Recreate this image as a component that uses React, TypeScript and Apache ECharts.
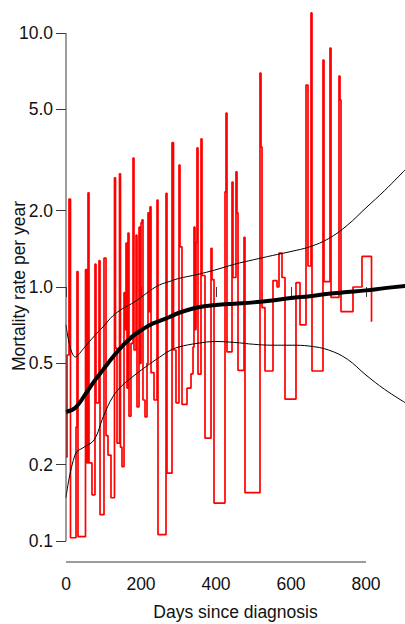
import React, { useEffect, useRef } from "react";
import * as echarts from "echarts";

// Step-wise (interval) mortality rate estimate: start day of each interval and its rate
const hazardDays = [
  0, 2.7, 8, 12, 26.7, 29.3, 32, 52, 56, 58.7, 61.3, 69.3, 77.3, 80, 88, 90.7, 101.3, 106.7, 112, 120,
  129.3, 132, 136, 142.7, 145.3, 149.3, 154.7, 157.3, 160, 162.7, 165.3, 168, 173.3, 178.7, 181.3, 186.7,
  189.3, 194.7, 197.3, 200, 202.7, 205.3, 210.7, 216, 218.7, 221.3, 224, 226.7, 234.7, 242.7, 245.3,
  266.7, 269.3, 282.7, 286.7, 293.3, 301.3, 304, 309.3, 322.7, 333.3, 338.7, 341.3, 344, 346.7, 349.3,
  352, 360, 362.7, 370.7, 386.7, 389.3, 394.7, 424, 426.7, 429.3, 442.7, 445.3, 453.3, 456, 458.7, 474.7,
  477.3, 517.3, 520, 522.7, 530.7, 552, 562.7, 568, 576, 584, 613.3, 624, 640, 645.3, 653.3, 656, 685.3,
  688, 704, 706.7, 728, 730.7, 733.3, 765.3, 789.3, 814.7,
];
const hazardRates = [
  0.214, 0.54, 2.22, 0.103, 0.281, 1.15, 0.104, 1.17, 0.203, 2.35, 0.203, 0.152, 1.23, 0.35, 1.27, 0.127,
  1.3, 0.26, 0.218, 0.148, 2.69, 0.575, 0.243, 2.79, 0.234, 0.196, 0.95, 0.68, 1.49, 0.4, 1.63, 0.31, 0.6,
  3.22, 0.565, 1.6, 0.337, 1.72, 0.5, 1.79, 1.84, 0.359, 0.308, 0.5, 1.96, 0.8, 2.07, 0.46, 0.359, 2.2,
  0.106, 2.34, 0.185, 3.7, 0.565, 0.35, 3.02, 1.44, 0.345, 0.4, 0.455, 0.58, 1.72, 0.68, 1.5, 3.53, 0.454,
  3.83, 1.11, 0.254, 1.42, 1.07, 0.141, 2.37, 4.84, 0.555, 2.59, 1.09, 2.84, 1.96, 0.47, 1.57, 0.155, 6.96,
  3.56, 0.83, 0.467, 1.06, 1.0, 1.36, 1.09, 0.362, 1.04, 0.71, 6.24, 1.21, 12.0, 0.467, 7.83, 1.05, 8.73,
  0.91, 6.77, 5.45, 0.8, 1.0, 1.32, 0.73,
];

// Smoothed rate and its confidence band
const smoothDays = [0, 25, 50, 75, 100, 125, 150, 175, 200, 225, 250, 275, 300, 350, 400, 450, 500, 550, 600, 650, 700, 750, 800, 850, 905];
const smoothRates = [0.322, 0.335, 0.375, 0.425, 0.475, 0.53, 0.585, 0.635, 0.675, 0.71, 0.735, 0.76, 0.79, 0.83, 0.85, 0.86, 0.87, 0.885, 0.905, 0.92, 0.94, 0.955, 0.97, 0.99, 1.01];
const upperRates = [0.71, 0.53, 0.58, 0.64, 0.70, 0.77, 0.82, 0.86, 0.91, 0.97, 1.02, 1.05, 1.08, 1.12, 1.17, 1.23, 1.28, 1.33, 1.38, 1.44, 1.55, 1.75, 2.05, 2.4, 2.9];
const lowerRates = [0.148, 0.22, 0.235, 0.25, 0.31, 0.37, 0.41, 0.44, 0.47, 0.5, 0.53, 0.56, 0.58, 0.6, 0.61, 0.605, 0.595, 0.59, 0.59, 0.585, 0.565, 0.52, 0.45, 0.395, 0.35];

const xTicks = [0, 200, 400, 600, 800];
const yTicks = [0.1, 0.2, 0.5, 1, 2, 5, 10];

const X_MAX = 904;
const Y_MIN = 0.08266;
const Y_MAX = 13.49;

const FONT = "'Liberation Sans', Arial, Helvetica, sans-serif";
const AXIS_COLOR = "#3a3a3a";

const lg = (v: number) => Math.log10(v);

export default function App() {
  const ref = useRef<HTMLDivElement>(null);

  useEffect(() => {
    if (!ref.current) return;
    const chart = echarts.init(ref.current, undefined, { renderer: "svg" });

    const hazard = hazardDays.map((d, i) => [d, lg(hazardRates[i])]);
    const smooth = smoothDays.map((d, i) => [d, lg(smoothRates[i])]);
    const upper = smoothDays.map((d, i) => [d, lg(upperRates[i])]);
    const lower = smoothDays.map((d, i) => [d, lg(lowerRates[i])]);

    chart.setOption({
      animation: false,
      grid: { left: 66, right: 0, top: 0, bottom: 62, containLabel: false, outerBoundsMode: "none" },
      xAxis: {
        type: "value",
        min: 0,
        max: X_MAX,
        splitLine: { show: false },
        axisLine: { show: false },
        axisTick: {
          show: true,
          customValues: xTicks,
          length: 10,
          lineStyle: { color: AXIS_COLOR, width: 1 },
        },
        axisLabel: {
          customValues: xTicks,
          margin: 13,
          fontSize: 17.5,
          fontFamily: FONT,
          color: "#111",
        },
        name: "Days since diagnosis",
        nameLocation: "middle",
        nameGap: 41,
        nameMoveOverlap: false,
        nameTextStyle: { fontSize: 17.5, fontFamily: FONT, color: "#111" },
      },
      yAxis: {
        type: "value",
        min: lg(Y_MIN),
        max: lg(Y_MAX),
        splitLine: { show: false },
        axisLine: { show: false },
        axisTick: {
          show: true,
          customValues: yTicks.map(lg),
          length: 10,
          lineStyle: { color: AXIS_COLOR, width: 1 },
        },
        axisLabel: {
          customValues: yTicks.map(lg),
          margin: 13,
          fontSize: 17.5,
          fontFamily: FONT,
          color: "#111",
          formatter: (v: number) => Math.pow(10, v).toFixed(1),
        },
        name: "Mortality rate per year",
        nameLocation: "middle",
        nameGap: 38,
        nameMoveOverlap: false,
        nameTextStyle: { fontSize: 17.5, fontFamily: FONT, color: "#111", padding: [0, 10, 0, 0] },
      },
      series: [
        {
          type: "line",
          data: hazard,
          step: "end",
          showSymbol: false,
          symbol: "none",
          lineStyle: { color: "#ff0000", width: 1.7 },
          z: 2,
        },
        {
          type: "line",
          data: upper,
          smooth: 0.4,
          showSymbol: false,
          symbol: "none",
          lineStyle: { color: "#000", width: 1 },
          z: 3,
        },
        {
          type: "line",
          data: lower,
          smooth: 0.4,
          showSymbol: false,
          symbol: "none",
          lineStyle: { color: "#000", width: 1 },
          z: 3,
        },
        {
          type: "line",
          data: smooth,
          smooth: 0.4,
          showSymbol: false,
          symbol: "none",
          lineStyle: { color: "#000", width: 4 },
          z: 4,
        },
      ],
    });

    // Axis lines spanning only the first to last tick (R style)
    const yTop = chart.convertToPixel({ gridIndex: 0 }, [0, lg(yTicks[yTicks.length - 1])]) as number[];
    const yBot = chart.convertToPixel({ gridIndex: 0 }, [0, lg(yTicks[0])]) as number[];
    const xL = chart.convertToPixel({ gridIndex: 0 }, [xTicks[0], lg(Y_MIN)]) as number[];
    const xR = chart.convertToPixel({ gridIndex: 0 }, [xTicks[xTicks.length - 1], lg(Y_MIN)]) as number[];
    chart.setOption({
      graphic: [
        {
          type: "line",
          shape: { x1: yTop[0], y1: yTop[1], x2: yBot[0], y2: yBot[1] },
          style: { stroke: AXIS_COLOR, lineWidth: 1 },
          z: 10,
        },
        {
          type: "line",
          shape: { x1: xL[0], y1: xL[1], x2: xR[0], y2: xR[1] },
          style: { stroke: AXIS_COLOR, lineWidth: 1 },
          z: 10,
        },
      ],
    });

    return () => chart.dispose();
  }, []);

  return (
    <div
      ref={ref}
      style={{ position: "fixed", left: 0, top: 0, width: 405, height: 624, background: "#fff" }}
    />
  );
}
